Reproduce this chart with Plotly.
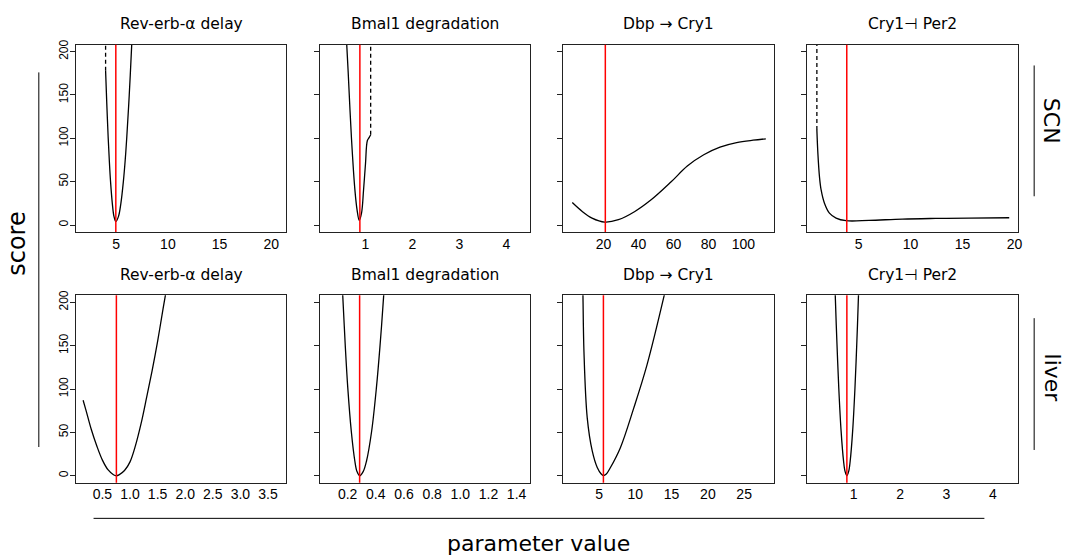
import plotly.graph_objects as go

W, H = 1073, 558

# ---------------- data ----------------
titles = ["Rev-erb-\u03b1 delay", "Bmal1 degradation", "Dbp \u2192 Cry1", "Cry1\u22a3 Per2"]
rows = ["SCN", "liver"]

# SCN row
scn_rev_x = [3.97, 4.085, 4.22, 4.34, 4.45, 4.62, 4.78, 4.96, 5.22, 5.45, 5.69, 5.87, 6.02, 6.26, 6.5, 6.56]
scn_rev_y = [178, 140, 101, 72, 50, 25, 10, 4, 10, 25, 50, 75, 101, 150, 208, 225]
scn_bmal_x = [0.58, 0.6, 0.63, 0.70, 0.775, 0.82, 0.866, 0.915, 0.958, 1.0, 1.04, 1.08, 1.11]
scn_bmal_y = [225, 208, 177, 101, 40, 17.5, 5.3, 13.7, 40, 71, 97.5, 101, 104]
scn_dbp_x = [2.1, 7.8, 13.4, 20.7, 28.5, 37.9, 47.2, 58.5, 67.9, 77.3, 86.6, 96.1, 105.5, 112.8]
scn_dbp_y = [25.9, 15.6, 8.0, 3.4, 6.1, 15.6, 29.0, 49.5, 68.0, 81.0, 89.8, 95.0, 97.8, 99.4]
scn_cry_x = [0.97, 1.07, 1.22, 1.38, 1.70, 2.18, 2.82, 3.78, 6.0, 9.2, 12.4, 15.6, 19.5]
scn_cry_y = [109.7, 82, 55.6, 40.4, 25.1, 13.7, 8.0, 4.95, 5.3, 6.9, 7.6, 8.0, 8.4]

# liver row
liv_rev_x = [0.15, 0.2, 0.3, 0.4, 0.5, 0.6, 0.7, 0.753, 0.8, 0.9, 1.0, 1.1, 1.2, 1.3, 1.4, 1.5, 1.6, 1.66]
liv_rev_y = [87, 76, 53, 34, 18, 7, 1.2, 0, 1, 6, 16, 35, 60, 90, 121, 155, 193, 215]
liv_bmal_x = [0.16, 0.165, 0.183, 0.201, 0.226, 0.251, 0.266, 0.285, 0.311, 0.334, 0.370, 0.404, 0.430, 0.456, 0.46]
liv_bmal_y = [220, 208, 150, 101, 51, 17, 5, 0, 5, 17, 51, 101, 150, 208, 220]
liv_dbp_x = [2.75, 2.78, 2.92, 3.37, 4.06, 4.75, 5.3, 5.6, 6.0, 6.57, 7.94, 9.78, 11.6, 13.98, 14.3]
liv_dbp_y = [220, 208, 143, 66.7, 28.6, 9.5, 2, 0.3, 2, 9.5, 32.4, 78, 127.6, 208, 220]
liv_cry_x = [0.60, 0.604, 0.638, 0.68, 0.729, 0.7825, 0.815, 0.854, 0.893, 0.9255, 0.979, 1.028, 1.07, 1.104, 1.108]
liv_cry_y = [220, 208, 156, 101, 52, 17, 5, 0, 5, 17, 52, 101, 156, 208, 220]

curves_x = [[scn_rev_x, scn_bmal_x, scn_dbp_x, scn_cry_x],
            [liv_rev_x, liv_bmal_x, liv_dbp_x, liv_cry_x]]
curves_y = [[scn_rev_y, scn_bmal_y, scn_dbp_y, scn_cry_y],
            [liv_rev_y, liv_bmal_y, liv_dbp_y, liv_cry_y]]

# dashed continuation segments (x position, y from, y to) for SCN row
dash_x = [3.97, 1.11, None, 0.97]
dash_y0 = [178, 104, None, 109.7]
dash_y1 = [215, 215, None, 215]

# optimal parameter values (red lines)
optimum = [[4.96, 0.88, 21.0, 3.85],
           [0.753, 0.285, 5.6, 0.854]]

# x axis ranges and ticks
x_ranges = [[[1.1, 21.45], [0.02, 4.5], [-3.0, 117.3], [0.04, 20.3]],
            [[0.02, 3.83], [0.0, 1.494], [0.08, 29.07], [0.0, 4.53]]]
x_ticks = [[[5, 10, 15, 20], [1, 2, 3, 4], [20, 40, 60, 80, 100], [5, 10, 15, 20]],
           [[0.5, 1.0, 1.5, 2.0, 2.5, 3.0, 3.5], [0.2, 0.4, 0.6, 0.8, 1.0, 1.2, 1.4],
            [5, 10, 15, 20, 25], [1, 2, 3, 4]]]
x_ticktext = [[["5", "10", "15", "20"], ["1", "2", "3", "4"], ["20", "40", "60", "80", "100"],
               ["5", "10", "15", "20"]],
              [["0.5", "1.0", "1.5", "2.0", "2.5", "3.0", "3.5"],
               ["0.2", "0.4", "0.6", "0.8", "1.0", "1.2", "1.4"],
               ["5", "10", "15", "20", "25"], ["1", "2", "3", "4"]]]
y_ticks = [0, 50, 100, 150, 200]
y_ticktext = ["0", "50", "100", "150", "200"]
y_range = [-8, 208]

# ---------------- layout geometry (pixels) ----------------
col_left = [76.3, 321.0, 566.0, 811.0]
col_right = [287.5, 532.3, 777.3, 1022.3]
row_top = [40.0, 293.0]
row_bot = [229.0, 482.0]


def px(xp):
    return xp / W


def py(yp):
    return 1 - yp / H


fig = go.Figure()
layout = {}
shapes = []
annotations = []

for r in range(2):
    for c in range(4):
        i = r * 4 + c + 1
        xa = "x" if i == 1 else f"x{i}"
        ya = "y" if i == 1 else f"y{i}"
        xkey = "xaxis" if i == 1 else f"xaxis{i}"
        ykey = "yaxis" if i == 1 else f"yaxis{i}"
        layout[xkey] = dict(
            domain=[px(col_left[c]), px(col_right[c])],
            anchor=ya, range=x_ranges[r][c],
            tickmode="array", tickvals=x_ticks[r][c], ticktext=x_ticktext[r][c],
            ticks="", ticklabelstandoff=-1,
            showline=True, mirror=True, linecolor="#222", linewidth=1,
            showgrid=False, zeroline=False,
            tickfont=dict(family="Liberation Sans", size=14, color="black"),
        )
        layout[ykey] = dict(
            domain=[py(row_bot[r]), py(row_top[r])],
            anchor=xa, range=y_range,
            tickmode="array", tickvals=y_ticks, ticktext=y_ticktext,
            ticks="outside", ticklen=5, tickcolor="#222",
            showticklabels=(c == 0), tickangle=-90, ticklabelstandoff=-3,
            showline=True, mirror=True, linecolor="#222", linewidth=1,
            showgrid=False, zeroline=False,
            tickfont=dict(family="Liberation Sans", size=12, color="black"),
        )
        # main curve
        fig.add_trace(go.Scatter(
            x=curves_x[r][c], y=curves_y[r][c], mode="lines",
            line=dict(color="black", width=1.3, shape="spline", smoothing=1.0),
            xaxis=xa, yaxis=ya, showlegend=False, hoverinfo="skip"))
        # dashed continuation (SCN)
        if r == 0 and dash_x[c] is not None:
            fig.add_trace(go.Scatter(
                x=[dash_x[c], dash_x[c]], y=[dash_y0[c], dash_y1[c]], mode="lines",
                line=dict(color="black", width=1.3, dash="4px,3px"),
                xaxis=xa, yaxis=ya, showlegend=False, hoverinfo="skip"))
        # red optimum line
        shapes.append(dict(type="line", xref=xa, yref=f"{ya} domain",
                           x0=optimum[r][c], x1=optimum[r][c], y0=0, y1=1,
                           line=dict(color="red", width=1.5)))
        # panel title
        annotations.append(dict(
            text=titles[c], xref="paper", yref="paper",
            x=px((col_left[c] + col_right[c]) / 2), y=py(row_top[r] - 21),
            xanchor="center", yanchor="middle", showarrow=False,
            font=dict(family="DejaVu Sans", size=15.5, color="black")))

# outer decoration lines
line_style = dict(color="black", width=1)
shapes += [
    dict(type="line", xref="paper", yref="paper", x0=px(39), x1=px(39), y0=py(68), y1=py(446), line=line_style),
    dict(type="line", xref="paper", yref="paper", x0=px(94), x1=px(989), y0=py(518), y1=py(518), line=line_style),
    dict(type="line", xref="paper", yref="paper", x0=px(1039), x1=px(1039), y0=py(61), y1=py(193), line=line_style),
    dict(type="line", xref="paper", yref="paper", x0=px(1039), x1=px(1039), y0=py(316), y1=py(449), line=line_style),
]

big = dict(family="DejaVu Sans", size=22, color="black")
annotations += [
    dict(text="score", xref="paper", yref="paper", x=px(17), y=py(240), textangle=-90,
         xanchor="center", yanchor="middle", showarrow=False, font=dict(family="DejaVu Sans", size=24, color="black")),
    dict(text="parameter value", xref="paper", yref="paper", x=px(541), y=py(543),
         xanchor="center", yanchor="middle", showarrow=False, font=big),
    dict(text=rows[0], xref="paper", yref="paper", x=px(1056), y=py(117), textangle=90,
         xanchor="center", yanchor="middle", showarrow=False, font=big),
    dict(text=rows[1], xref="paper", yref="paper", x=px(1057), y=py(376), textangle=90,
         xanchor="center", yanchor="middle", showarrow=False, font=big),
]

fig.update_layout(
    width=W, height=H, margin=dict(l=0, r=0, t=0, b=0),
    paper_bgcolor="white", plot_bgcolor="white",
    shapes=shapes, annotations=annotations, **layout)

fig.write_html("out.html")
